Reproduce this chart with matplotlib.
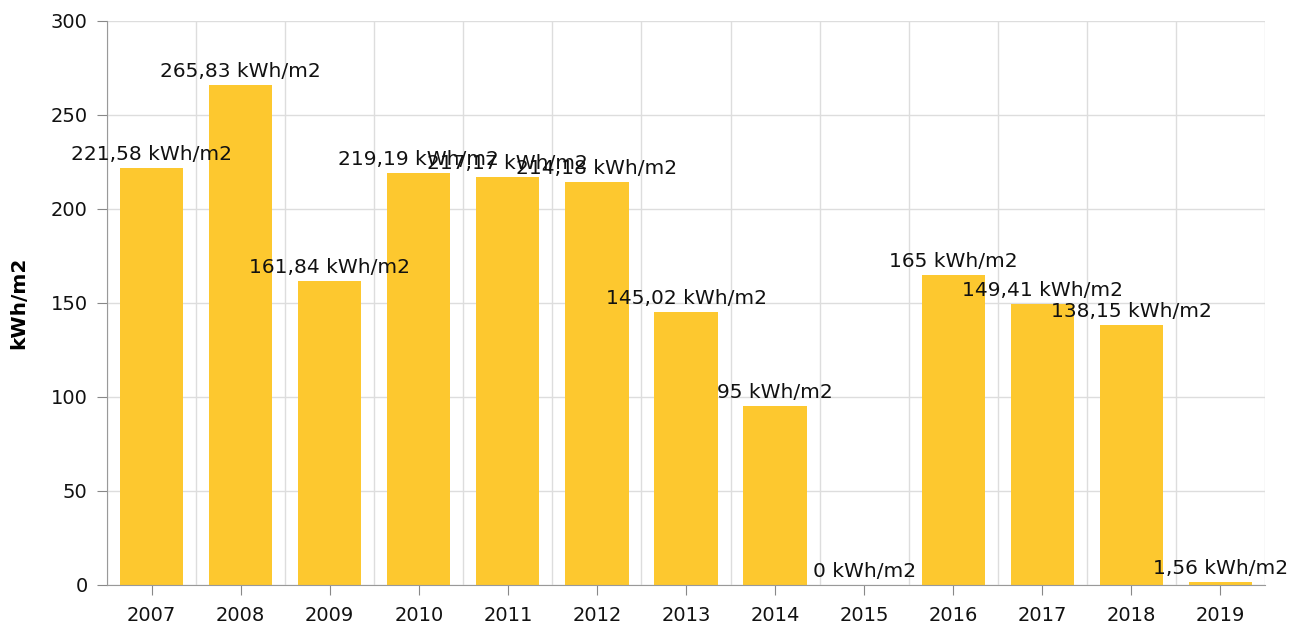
import matplotlib
matplotlib.use("Agg")
import matplotlib.pyplot as plt
import numpy as np

years = ["2007", "2008", "2009", "2010", "2011", "2012", "2013", "2014", "2015", "2016", "2017", "2018", "2019"]
values = [221.58, 265.83, 161.84, 219.19, 217.17, 214.18, 145.02, 95, 0, 165, 149.41, 138.15, 1.56]
labels = ["221,58", "265,83", "161,84", "219,19", "217,17", "214,18", "145,02", "95", "0", "165", "149,41", "138,15", "1,56"]
unit = "kWh/m2"

plt.rcParams['font.family'] = ['DejaVu Sans']
fig = plt.figure(figsize=(12.9, 6.27), dpi=100)
ax = fig.add_axes([107/1290, 1-585/627, (1265-107)/1290, (585-21)/627])

x = np.arange(len(years))
ax.bar(x, values, width=0.71, color="#FDC82F", zorder=2)
for xi, v, l in zip(x, values, labels):
    ax.annotate(f"{l} {unit}", (xi, v), xytext=(0, 3), textcoords="offset points",
                ha="center", va="bottom", fontsize=14.5, color="#111111", zorder=3)

ax.set_xlim(-0.5, len(years)-0.5)
ax.set_ylim(0, 300)
ax.set_yticks(np.arange(0, 301, 50))
ax.set_xticks(x)
ax.set_xticklabels(years)
ax.set_xticks(np.arange(-0.5, len(years)), minor=True)
ax.grid(True, which="minor", axis="x", color="#dddddd", lw=1, zorder=0)
ax.grid(True, which="major", axis="y", color="#dddddd", lw=1, zorder=0)
ax.tick_params(axis="x", which="minor", length=0)
ax.tick_params(axis="both", which="major", labelsize=14, colors="#888888", labelcolor="#111111", length=7)
ax.tick_params(axis="x", pad=8)
ax.tick_params(axis="y", pad=7)
for s in ["top", "right"]:
    ax.spines[s].set_visible(False)
for s in ["left", "bottom"]:
    ax.spines[s].set_color("#999999")
ax.set_ylabel("kWh/m2", fontsize=14.5, fontweight="bold", labelpad=16)

fig.savefig("out.png", dpi=100)
